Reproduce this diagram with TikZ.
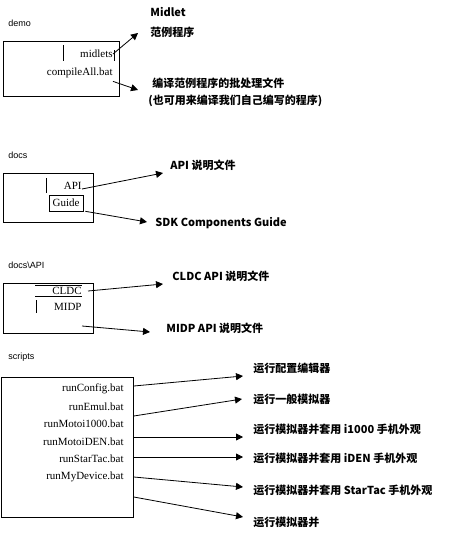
\documentclass[tikz,border=0pt]{standalone}
\usepackage{fontspec}
\setmainfont{Liberation Serif}
\newfontfamily\cjk{Noto Sans CJK SC}
\newfontfamily\dirfont{Liberation Sans}
\usetikzlibrary{arrows.meta}

\begin{document}
\begin{tikzpicture}[x=1pt,y=-1pt,line width=0.8pt,
  dir/.style={anchor=west,inner sep=0pt,font=\dirfont\fontsize{9}{10}\selectfont},
  folder/.style={draw,anchor=north west,inner sep=0pt},
  item/.style={anchor=east,inner sep=0pt,font=\fontsize{11}{12}\selectfont},
  note/.style={anchor=west,inner sep=0pt,font=\cjk\bfseries\fontsize{11}{12}\selectfont},
  link/.style={-{Triangle[length=7pt,width=7pt]}}]
  \useasboundingbox (0,0) rectangle (458,538);

  \node[dir] (demo) at (8,23) {demo};
  \node[folder,minimum width=116pt,minimum height=55pt] (demobox) at (3,41) {};
  \node[item] (midlets) at (113,54) {midlets};
  \node[item] (compile) at (113,73) {compileAll.bat};
  \draw (63,45) -- (63,61);
  \draw (114,50) -- (114,61);
  \node[note] (midlet) at (150,12) {Midlet};
  \node[note] (sample) at (150,32) {范例程序};
  \node[note] (batch) at (152,83) {编译范例程序的批处理文件};
  \node[note] (batch2) at (148,101) {(也可用来编译我们自己编写的程序)};
  \coordinate (t1) at (138,33);
  \coordinate (t2) at (138,90);
  \draw[link] (midlets.east) -- (t1);
  \draw[link] ([yshift=-3pt]compile.south east) -- (t2);

  \node[dir] (docs) at (8,155) {docs};
  \node[folder,minimum width=90pt,minimum height=49pt] (docsbox) at (3,173) {};
  \draw (46,178) -- (46,193);
  \node[item] (api) at (82,186) {API};
  \node[draw,line width=0.6pt,minimum width=34pt,minimum height=16pt,inner sep=0pt,
    font=\fontsize{11}{12}\selectfont] (guide) at (66,203) {Guide};
  \node[note] (apidoc) at (170,165) {API 说明文件};
  \node[note] (sdk) at (155,223) {SDK Components Guide};
  \coordinate (t3) at (163,173);
  \coordinate (t4) at (147,222);
  \draw[link] ([yshift=-3pt]api.east) -- (t3);
  \draw[link] ([xshift=2pt]guide.south east) -- (t4);

  \node[dir] (docsapi) at (8,265) {docs\textbackslash API};
  \node[folder,minimum width=90pt,minimum height=50pt] (apibox) at (3,283) {};
  \draw (35,285) -- (82,285);
  \draw (35,296) -- (82,296);
  \draw (36,300) -- (36,313);
  \node[item] (cldc) at (82,291) {CLDC};
  \node[item] (midp) at (82,307) {MIDP};
  \node[note] (cldcdoc) at (172,276) {CLDC API 说明文件};
  \node[note] (midpdoc) at (166,328) {MIDP API 说明文件};
  \coordinate (t5) at (163,284);
  \coordinate (t6) at (150,332);
  \draw[link] ([xshift=6pt]cldc.east) -- (t5);
  \draw[link] ([yshift=-19pt]midp.east) -- (t6);

  \node[dir] (scripts) at (8,357) {scripts};
  \node[folder,minimum width=132pt,minimum height=140pt] (scriptbox) at (1,377) {};
  \node[item] (r1) at (124,389) {runConfig.bat};
  \node[item] (r2) at (124,407) {runEmul.bat};
  \node[item] (r3) at (124,424) {runMotoi1000.bat};
  \node[item] (r4) at (124,442) {runMotoiDEN.bat};
  \node[item] (r5) at (124,459) {runStarTac.bat};
  \node[item] (r6) at (124,477) {runMyDevice.bat};
  \node[note] (n1) at (253,368) {运行配置编辑器};
  \node[note] (n2) at (253,399) {运行一般模拟器};
  \node[note] (n3) at (253,429) {运行模拟器并套用 i1000 手机外观};
  \node[note] (n4) at (253,458) {运行模拟器并套用 iDEN 手机外观};
  \node[note] (n5) at (253,490) {运行模拟器并套用 StarTac 手机外观};
  \node[note] (n6) at (253,522) {运行模拟器并};
  \coordinate (s1) at (243,376);
  \coordinate (s2) at (242,399);
  \coordinate (s3) at (243,437);
  \coordinate (s4) at (243,457);
  \coordinate (s5) at (243,487);
  \coordinate (s6) at (243,517);
  \draw[link] (scriptbox.east |- 0,386) -- (s1);
  \draw[link] (scriptbox.east |- 0,416) -- (s2);
  \draw[link] (scriptbox.east |- 0,437) -- (s3);
  \draw[link] (scriptbox.east |- 0,457) -- (s4);
  \draw[link] (scriptbox.east |- 0,477) -- (s5);
  \draw[link] (scriptbox.east |- 0,497) -- (s6);
\end{tikzpicture}
\end{document}
